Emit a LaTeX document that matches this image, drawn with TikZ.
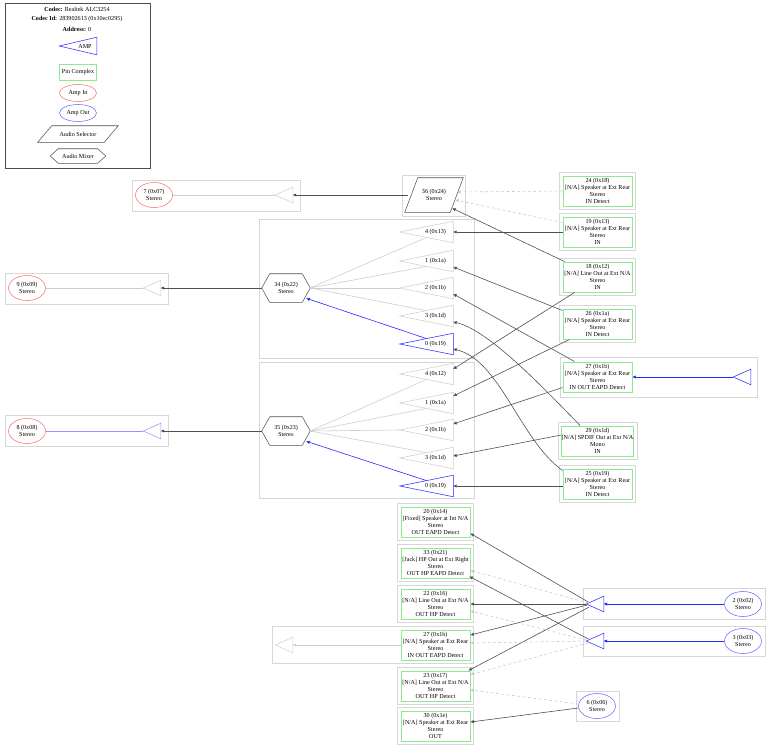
\documentclass[tikz,border=0pt]{standalone}
\usepackage{fontspec}
\setmainfont{Liberation Serif}
\usetikzlibrary{arrows.meta,calc,shapes.geometric}
\definecolor{pinG}{RGB}{140,235,140}
\definecolor{clG}{RGB}{215,215,215}
\definecolor{edg}{RGB}{80,80,80}
\definecolor{dsh}{RGB}{200,200,200}
\definecolor{trG}{RGB}{205,205,205}
\definecolor{ampB}{RGB}{40,40,255}
\definecolor{inR}{RGB}{250,110,110}
\newcommand\pin[4]{\node[pin] (#1) at (#2,#3) {#4};
  \draw[cl] ($(#1.south west)+(-3,3)$) rectangle ($(#1.north east)+(3,-3)$);}
% big triangle: name, x, y, color, text
\newcommand\btri[5]{\node[tribox,minimum width=53*0.75pt,minimum height=21*0.75pt] (#1) at (#2,#3) {};
  \draw[#4] (#1.west) -- (#1.north east) -- (#1.south east) -- cycle;
  \node[txt] at ($(#1.center)+(9,0)$) {#5};}
% small triangle
\newcommand\stri[4]{\node[tribox,minimum width=17*0.75pt,minimum height=15*0.75pt] (#1) at (#2,#3) {};
  \draw[#4] (#1.west) -- (#1.north east) -- (#1.south east) -- cycle;}
\newcommand\hexa[4]{\node[tribox,minimum width=48*0.75pt,minimum height=28*0.75pt,align=center,font=\fontsize{4.5}{5.2}\selectfont] (#1) at (#2,#3) {#4};
  \draw[edg,thin] (#1.west) -- ($(#1.north west)+(8,0)$) -- ($(#1.north east)+(-8,0)$) -- (#1.east) -- ($(#1.south east)+(-8,0)$) -- ($(#1.south west)+(8,0)$) -- cycle;}
\begin{document}
\begin{tikzpicture}[x=0.75pt,y=-0.75pt,
  txt/.style={font=\fontsize{4.6}{5.3}\selectfont,inner sep=0,align=center},
  pin/.style={txt,draw=pinG,line width=0.7pt,minimum width=69*0.75pt,minimum height=30*0.75pt},
  cl/.style={draw=clG,line width=0.5pt},
  tribox/.style={inner sep=0,rectangle},
  ain/.style={txt,ellipse,draw=inR,minimum width=37*0.75pt,minimum height=25*0.75pt},
  aout/.style={txt,ellipse,draw=ampB!70,minimum width=37*0.75pt,minimum height=25*0.75pt},
  ar/.style={-{Triangle[length=2.6pt,width=2.2pt]}},
  e/.style={ar,draw=edg,line width=0.45pt},
  d/.style={ar,draw=dsh,dash pattern=on 2pt off 2pt,line width=0.45pt},
  g/.style={draw=trG,line width=0.45pt},
  b/.style={ar,draw=ampB,line width=0.45pt},
]
\useasboundingbox (0,0) rectangle (770,750);
% legend
\draw[draw=black!70,line width=0.4pt] (5,3) rectangle (150,168);
\node[txt] (l1) at (77,9) {\textbf{Codec:} Realtek ALC3254};
\node[txt] (l2) at (77,19) {\textbf{Codec Id:} 283902613 (0x10ec0295)};
\node[txt] (l3) at (77,29) {\textbf{Address:} 0};
\node[tribox,minimum width=37*0.75pt,minimum height=17*0.75pt] (lamp) at (78,46) {};
\draw[ampB] (lamp.west) -- (lamp.north east) -- (lamp.south east) -- cycle;
\node[txt] at (85,46) {AMP};
\node[txt,draw=pinG,line width=0.7pt,minimum width=37*0.75pt,minimum height=16*0.75pt] (lpin) at (78,72) {Pin Complex};
\node[ain,minimum height=17*0.75pt] (lin) at (78,93) {Amp In};
\node[aout,minimum height=17*0.75pt] (lout) at (78,113) {Amp Out};
\node[tribox,minimum width=66*0.75pt,minimum height=16*0.75pt,txt] (lsel) at (78,134) {Audio Selector};
\draw[edg] ($(lsel.south west)+(-7,0)$) -- ($(lsel.north west)+(7,0)$) -- ($(lsel.north east)+(7,0)$) -- ($(lsel.south east)+(-7,0)$) -- cycle;
\node[tribox,minimum width=55*0.75pt,minimum height=14*0.75pt,txt] (lmix) at (78,156) {Audio Mixer};
\draw[edg] (lmix.west) -- ($(lmix.north west)+(8,0)$) -- ($(lmix.north east)+(-8,0)$) -- (lmix.east) -- ($(lmix.south east)+(-8,0)$) -- ($(lmix.south west)+(8,0)$) -- cycle;

% clusters left
\draw[cl] (132,180) rectangle (300,211);
\draw[cl] (5,273) rectangle (168,304);
\draw[cl] (5,415) rectangle (168,446);
\draw[cl] (259,219) rectangle (474,358);
\draw[cl] (259,362) rectangle (474,498);
\draw[cl] (402,175) rectangle (465,216);
\draw[cl] (560,357) rectangle (757,397);

\node[ain] (a7) at (154,195) {7 (0x07)\\Stereo};
\node[ain] (a9) at (27,288) {9 (0x09)\\Stereo};
\node[ain] (a8) at (27,431) {8 (0x08)\\Stereo};
\stri{t7}{284}{195}{trG}
\stri{t9}{152}{288}{trG}
\stri{t8}{152}{431}{ampB!50}

% selector 36
\node[tribox,minimum width=46*0.75pt,minimum height=34*0.75pt,txt] (s36) at (434,195) {36 (0x24)\\Stereo};
\draw[edg] ($(s36.south west)+(-6,0)$) -- ($(s36.north west)+(7,0)$) -- ($(s36.north east)+(6,0)$) -- ($(s36.south east)+(-7,0)$) -- cycle;

% mixers
\hexa{h34}{286}{288}{34 (0x22)\\Stereo}
\hexa{h35}{286}{431}{35 (0x23)\\Stereo}
\btri{m4}{426.5}{232}{trG}{4 (0x13)}
\btri{m1}{426.5}{261}{trG}{1 (0x1a)}
\btri{m2}{426.5}{288}{trG}{2 (0x1b)}
\btri{m3}{426.5}{316}{trG}{3 (0x1d)}
\btri{m0}{426.5}{344}{ampB}{0 (0x19)}
\btri{n4}{426.5}{374}{trG}{4 (0x12)}
\btri{n1}{426.5}{403}{trG}{1 (0x1a)}
\btri{n2}{426.5}{430}{trG}{2 (0x1b)}
\btri{n3}{426.5}{458}{trG}{3 (0x1d)}
\btri{n0}{426.5}{486}{ampB}{0 (0x19)}

% right pins
\pin{p24}{597.5}{191}{24 (0x18)\\{[N/A]} Speaker at Ext Rear\\Stereo\\IN Detect}
\pin{p19}{597.5}{232}{19 (0x13)\\{[N/A]} Speaker at Ext Rear\\Stereo\\IN}
\pin{p18}{597.5}{277}{18 (0x12)\\{[N/A]} Line Out at Ext N/A\\Stereo\\IN}
\pin{p26}{597.5}{324}{26 (0x1a)\\{[N/A]} Speaker at Ext Rear\\Stereo\\IN Detect}
\node[pin] (p27) at (597.5,377) {27 (0x1b)\\{[N/A]} Speaker at Ext Rear\\Stereo\\IN OUT EAPD Detect};
\pin{p29}{597.5}{441}{29 (0x1d)\\{[N/A]} SPDIF Out at Ext N/A\\Mono\\IN}
\pin{p25}{597.5}{484}{25 (0x19)\\{[N/A]} Speaker at Ext Rear\\Stereo\\IN Detect}
\stri{t27}{742}{377}{ampB}

% top edges
\draw[g] (t7.west) -- (a7.east);
\draw[g] (t9.west) -- (a9.east);
\draw[ampB!50,line width=0.45pt] (t8.west) -- (a8.east);
\draw[e] ($(s36.west)+(-3,0)$) -- (t7.east);
\draw[e] (h34.west) -- (t9.east);
\draw[e] (h35.west) -- (t8.east);
\draw[d] (p24.west) -- ($(s36.east)+(0,-3)$);
\draw[d] ($(p19.north west)+(0,6)$) -- ($(s36.east)+(-2,5)$);
\draw[e] ($(p18.north west)+(2,0)$) -- ($(s36.south east)+(-5,-4)$);
\draw[e] (p19.west) -- (m4.east);
\draw[e] ($(p26.north west)+(0,2)$) -- ($(m1.east)+(0,6)$);
\draw[e] ($(p27.north west)+(12,0)$) -- ($(m2.east)+(0,6)$);
\draw[e] ($(p29.north west)+(19,0)$) .. controls (550,395) and (490,330) .. ($(m3.east)+(0,6)$);
\draw[e] ($(p25.north west)+(0,2)$) .. controls (520,440) and (500,360) .. ($(m0.east)+(0,5)$);
\draw[e] ($(p18.south west)+(12,0)$) -- ($(n4.east)+(0,-5)$);
\draw[e] ($(p26.south west)+(7,0)$) -- ($(n1.east)+(0,-7)$);
\draw[e] ($(p27.south west)+(0,-5)$) -- ($(n2.east)+(0,-6)$);
\draw[e] ($(p29.west)+(0,-6)$) -- ($(n3.east)+(0,-2)$);
\draw[e] ($(p25.west)+(0,2)$) -- (n0.east);
\draw[b] (t27.west) -- (p27.east);
% mixer inputs
\foreach \h/\a/\bb in {h34/m4/m1, h35/n4/n1}{
  \draw[g] (\h.east) -- ($(\a.west)!0.5!(\a.south east)$);
  \draw[g] (\h.east) -- ($(\bb.west)!0.5!(\bb.south east)$);}
\draw[g] (h34.east) -- (m2.west);
\draw[g] (h35.east) -- (n2.west);
\draw[g] (h34.east) -- ($(m3.west)!0.5!(m3.north east)$);
\draw[g] (h35.east) -- ($(n3.west)!0.5!(n3.north east)$);
\draw[b] ($(m0.west)!0.5!(m0.north east)$) -- ($(h34.south east)+(-4,-4)$);
\draw[b] ($(n0.west)!0.5!(n0.north east)$) -- ($(h35.south east)+(-4,-4)$);

% bottom pins
\pin{q20}{435.5}{522}{20 (0x14)\\{[Fixed]} Speaker at Int N/A\\Stereo\\OUT EAPD Detect}
\pin{q33}{435.5}{563}{33 (0x21)\\{[Jack]} HP Out at Ext Right\\Stereo\\OUT HP EAPD Detect}
\pin{q22}{435.5}{604}{22 (0x16)\\{[N/A]} Line Out at Ext N/A\\Stereo\\OUT HP Detect}
\node[pin] (q27) at (435.5,645) {27 (0x1b)\\{[N/A]} Speaker at Ext Rear\\Stereo\\IN OUT EAPD Detect};
\draw[cl] (272,626) rectangle (473,663);
\pin{q23}{435.5}{686}{23 (0x17)\\{[N/A]} Line Out at Ext N/A\\Stereo\\OUT HP Detect}
\pin{q30}{435.5}{726}{30 (0x1e)\\{[N/A]} Speaker at Ext Rear\\Stereo\\OUT}
\stri{tq27}{284}{645}{trG}
\draw[ar,draw=trG,line width=0.45pt] (q27.west) -- (tq27.east);

\draw[cl] (583,588) rectangle (765,619);
\draw[cl] (583,626) rectangle (765,656);
\draw[cl] (576,691) rectangle (619,721);
\stri{u2}{595}{604}{ampB}
\stri{u3}{595}{641}{ampB}
\node[aout] (o2) at (743,604) {2 (0x02)\\Stereo};
\node[aout] (o3) at (743,641) {3 (0x03)\\Stereo};
\node[aout] (o6) at (597,706) {6 (0x06)\\Stereo};
\draw[b] (o2.west) -- (u2.east);
\draw[b] (o3.west) -- (u3.east);
\draw[e] ($(u2.west)+(2,-2)$) -- ($(q20.south east)+(0,-4)$);
\draw[d] ($(u2.west)+(2,-1)$) -- ($(q33.south east)+(0,-8)$);
\draw[e] (u2.west) -- (q22.east);
\draw[e] ($(u2.west)+(1,1)$) -- ($(q27.east)+(0,-10)$);
\draw[e] ($(u2.west)+(3,3)$) -- ($(q23.north east)+(-2,0)$);
\draw[e] ($(u3.west)+(2,-2)$) -- ($(q33.south east)+(-1,-2)$);
\draw[d] ($(u3.west)+(0,-1)$) -- ($(q22.east)+(0,7)$);
\draw[d] (u3.west) -- ($(q27.east)+(0,-2)$);
\draw[d] ($(u3.west)+(2,2)$) -- ($(q23.north east)+(0,4)$);
\draw[d] ($(o6.west)+(0,-2)$) -- ($(q23.east)+(0,4)$);
\draw[e] ($(o6.west)+(0,2)$) -- ($(q30.east)+(0,-4)$);
\end{tikzpicture}
\end{document}
